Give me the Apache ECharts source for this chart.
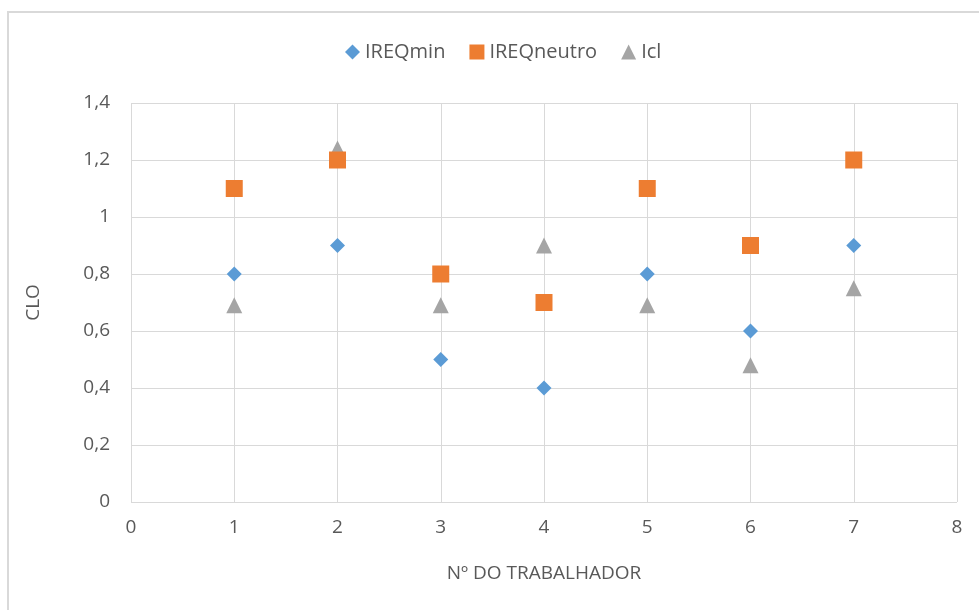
<!DOCTYPE html>
<html>
<head>
<meta charset="utf-8">
<script src="https://cdn.jsdelivr.net/npm/echarts@6/dist/echarts.min.js"></script>
<style>
html, body { margin: 0; padding: 0; background: #fff; }
#frame { position: absolute; left: 7px; top: 11px; width: 1000px; height: 700px;
  border-left: 2px solid #d9d9d9; border-top: 2px solid #d9d9d9; }
#main { position: absolute; left: 0; top: 0; width: 979px; height: 610px; }
</style>
</head>
<body>
<div id="frame"></div>
<div id="main"></div>
<script>
// Nº do trabalhador
var trabalhador = [1, 2, 3, 4, 5, 6, 7];
var ireqMin = [0.8, 0.9, 0.5, 0.4, 0.8, 0.6, 0.9];
var ireqNeutro = [1.1, 1.2, 0.8, 0.7, 1.1, 0.9, 1.2];
var icl = [0.69, 1.24, 0.69, 0.9, 0.69, 0.48, 0.75];

var pares = function(xs, ys) {
	var out = [];
	for (var i = 0; i < xs.length; i++) {
		out.push([xs[i], ys[i]]);
	}
	return out;
};

var virgula = function(v) {
	return String(Math.round(v * 10) / 10).replace('.', ',');
};

var fonte = 'Open Sans';
var cinza = '#595959';
var linha = '#d9d9d9';

var myChart = echarts.init(document.getElementById('main'));
var option = {
	animation: false,
	legend: {
		top: 37,
		left: 340,
		itemWidth: 15,
		itemHeight: 15,
		itemGap: 24,
		textStyle: { fontFamily: fonte, fontSize: 20, color: cinza },
		data: ['IREQmin', 'IREQneutro', 'Icl']
	},
	grid: { left: 131, right: 22, top: 103, bottom: 108 },
	xAxis: {
		type: 'value',
		min: 0, max: 8, interval: 1,
		name: 'Nº DO TRABALHADOR',
		nameLocation: 'middle',
		nameGap: 62,
		nameTextStyle: { fontFamily: fonte, fontSize: 19, color: cinza },
		axisLine: { show: false },
		axisTick: { show: false },
		axisLabel: { fontFamily: fonte, fontSize: 19, color: cinza, margin: 16 },
		splitLine: { show: true, lineStyle: { color: linha, width: 1 } }
	},
	yAxis: {
		type: 'value',
		min: 0, max: 1.4, interval: 0.2,
		name: 'CLO',
		nameLocation: 'middle',
		nameGap: 88,
		nameTextStyle: { fontFamily: fonte, fontSize: 19, color: cinza },
		axisLine: { show: false },
		axisTick: { show: false },
		axisLabel: { fontFamily: fonte, fontSize: 19, color: cinza, margin: 21,
			formatter: virgula },
		splitLine: { show: true, lineStyle: { color: linha, width: 1 } }
	},
	series: [ {
		name: 'IREQmin',
		type: 'scatter',
		symbol: 'diamond',
		symbolSize: 15,
		z: 4,
		itemStyle: { color: '#5b9bd5', opacity: 1 },
		data: pares(trabalhador, ireqMin)
	}, {
		name: 'IREQneutro',
		type: 'scatter',
		symbol: 'rect',
		symbolSize: 17,
		z: 4,
		itemStyle: { color: '#ed7d31', opacity: 1 },
		data: pares(trabalhador, ireqNeutro)
	}, {
		name: 'Icl',
		type: 'scatter',
		symbol: 'triangle',
		symbolSize: 16,
		z: 3,
		itemStyle: { color: '#a5a5a5', opacity: 1 },
		data: pares(trabalhador, icl)
	} ]
};
myChart.setOption(option);
</script>
</body>
</html>
